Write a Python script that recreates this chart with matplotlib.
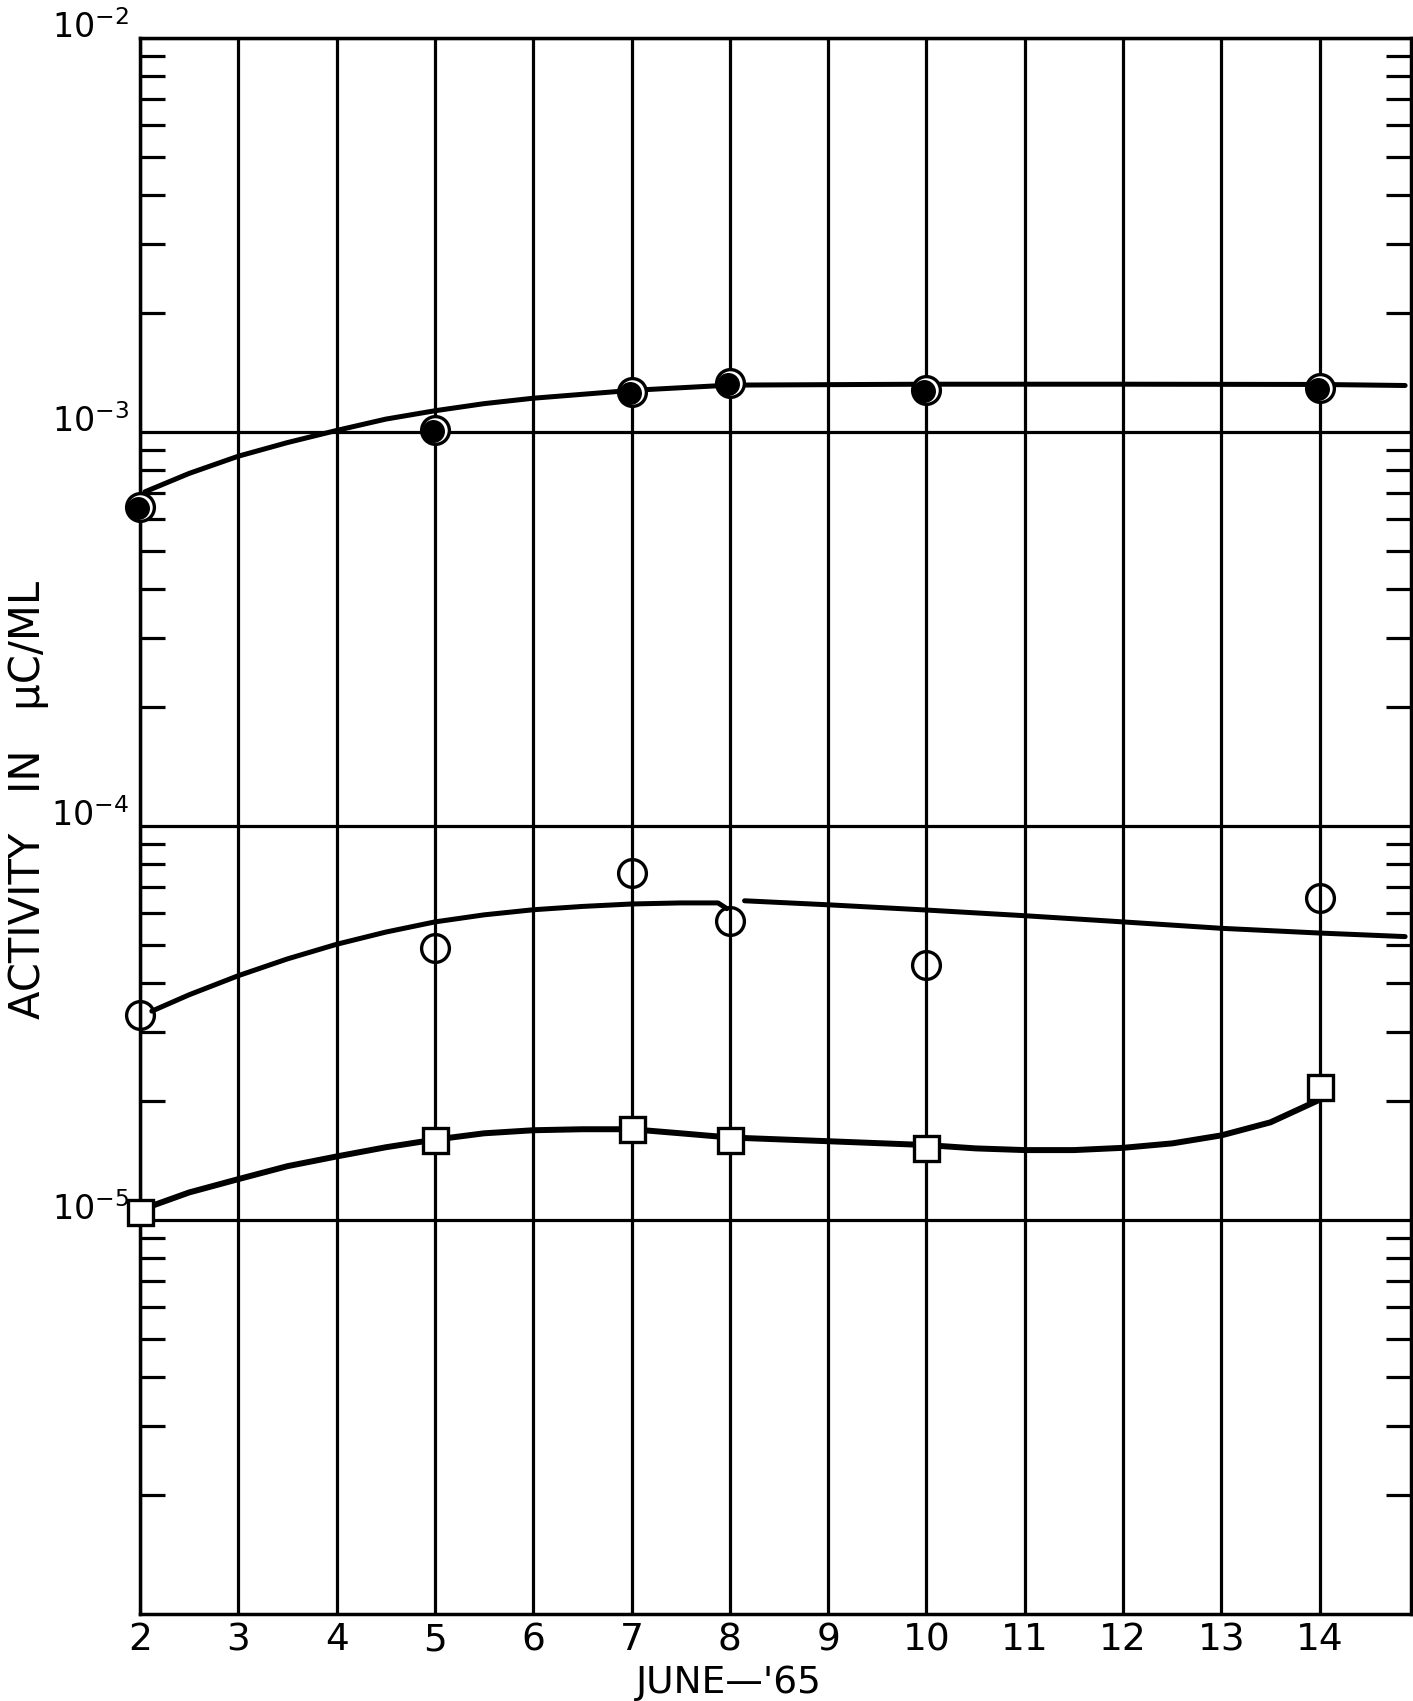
import numpy as np
import matplotlib
matplotlib.use("Agg")
import matplotlib.pyplot as plt
import matplotlib.transforms as mtransforms
from matplotlib.ticker import LogLocator, NullFormatter, FixedLocator

# measured days (June 1965)
days = [2, 5, 7, 8, 10, 14]

# filled circles (top series)
top_vals = [6.46e-4, 1.01e-3, 1.26e-3, 1.33e-3, 1.28e-3, 1.29e-3]
top_fit_x = [2.05, 2.5, 3, 3.5, 4, 4.5, 5, 5.5, 6, 7, 8, 10, 12, 14, 14.87]
top_fit_y = [7.05e-4, 7.85e-4, 8.68e-4, 9.40e-4, 1.009e-3, 1.078e-3, 1.132e-3,
             1.180e-3, 1.218e-3, 1.275e-3, 1.315e-3, 1.322e-3, 1.322e-3, 1.320e-3, 1.312e-3]

# open circles (middle series), curve drawn in two pieces
mid_vals = [3.32e-5, 4.90e-5, 7.62e-5, 5.75e-5, 4.44e-5, 6.58e-5]
mid_fit_a_x = [2.12, 2.5, 3, 3.5, 4, 4.5, 5, 5.5, 6, 6.5, 7, 7.5, 7.88, 7.97]
mid_fit_a_y = [3.39e-5, 3.73e-5, 4.17e-5, 4.60e-5, 5.01e-5, 5.38e-5, 5.71e-5,
               5.95e-5, 6.13e-5, 6.25e-5, 6.34e-5, 6.38e-5, 6.38e-5, 6.17e-5]
mid_fit_b_x = [8.15, 9, 10, 11, 12, 13, 14, 14.87]
mid_fit_b_y = [6.46e-5, 6.31e-5, 6.12e-5, 5.92e-5, 5.71e-5, 5.50e-5, 5.35e-5, 5.24e-5]

# squares (bottom series)
low_vals = [1.05e-5, 1.60e-5, 1.70e-5, 1.60e-5, 1.52e-5, 2.17e-5]
low_fit_x = [2, 2.5, 3, 3.5, 4, 4.5, 5, 5.5, 6, 6.5, 7, 7.5, 8, 9, 10, 10.5, 11,
             11.5, 12, 12.5, 13, 13.5, 14]
low_fit_y = [1.06e-5, 1.175e-5, 1.27e-5, 1.37e-5, 1.45e-5, 1.53e-5, 1.60e-5,
             1.66e-5, 1.69e-5, 1.70e-5, 1.70e-5, 1.66e-5, 1.62e-5, 1.585e-5,
             1.55e-5, 1.52e-5, 1.505e-5, 1.505e-5, 1.525e-5, 1.565e-5, 1.64e-5,
             1.77e-5, 2.02e-5]

x_ticks = list(range(2, 15))
y_major = [1e-5, 1e-4, 1e-3, 1e-2]
y_labels = [r"$\mathregular{10^{-5}}$", r"$\mathregular{10^{-4}}$",
            r"$\mathregular{10^{-3}}$", r"$\mathregular{10^{-2}}$"]

plt.rcParams['font.family'] = ['DejaVu Sans']
fig = plt.figure(figsize=(14.13, 17.01), dpi=100)
ax = fig.add_axes([0.0991, 0.0511, 0.8995, 0.9266])

ax.set_yscale("log")
ax.set_xlim(2, 14.93)
ax.set_ylim(1e-6, 1e-2)

# grid: every day, every decade
ax.set_xticks(x_ticks)
ax.yaxis.set_major_locator(FixedLocator(y_major))
ax.set_yticklabels(y_labels)
for lab in ax.get_yticklabels():
    lab.set_verticalalignment("baseline")
ax.yaxis.set_minor_locator(LogLocator(base=10, subs=np.arange(2, 10)))
ax.yaxis.set_minor_formatter(NullFormatter())
ax.grid(True, which="major", color="black", linewidth=2.3)
ax.set_axisbelow(True)

ax.tick_params(axis="both", which="major", length=0, colors="black")
ax.tick_params(axis="x", which="major", pad=6, labelsize=27)
ax.tick_params(axis="y", which="major", pad=8, labelsize=24)
ax.tick_params(axis="y", which="minor", direction="in", length=18, width=2.3,
               left=True, right=True)
for s in ax.spines.values():
    s.set_linewidth(2.5)

# fitted curves
lw = dict(color="black", solid_capstyle="round", solid_joinstyle="round", zorder=3)
ax.plot(top_fit_x, top_fit_y, linewidth=3.6, **lw)
ax.plot(mid_fit_a_x, mid_fit_a_y, linewidth=3.6, **lw)
ax.plot(mid_fit_b_x, mid_fit_b_y, linewidth=3.6, **lw)
ax.plot(low_fit_x, low_fit_y, linewidth=4.3, **lw)

# ringed dots: open ring plus a slightly shifted filled dot
shift = mtransforms.offset_copy(ax.transData, fig=fig, x=-2, y=-1, units="dots")
ax.plot(days, top_vals, "o", markersize=20, markerfacecolor="white",
        markeredgecolor="black", markeredgewidth=2.4, zorder=4, clip_on=False)
ax.plot(days, top_vals, "o", markersize=15.5, color="black", transform=shift,
        zorder=5, clip_on=False)

ax.plot(days, mid_vals, "o", markersize=20, markerfacecolor="none",
        markeredgecolor="black", markeredgewidth=2.4, zorder=4, clip_on=False)
ax.plot(days, low_vals, "s", markersize=18, markerfacecolor="white",
        markeredgecolor="black", markeredgewidth=2.4, zorder=4, clip_on=False)

fig.text(0.0195, 0.530, "ACTIVITY   IN   \u03bcC/ML", rotation=90, fontsize=30,
         ha="center", va="center")
fig.text(0.516, 0.0105, "JUNE\u2014'65", fontsize=27, ha="center", va="center")

plt.savefig("out.png", dpi=100)
